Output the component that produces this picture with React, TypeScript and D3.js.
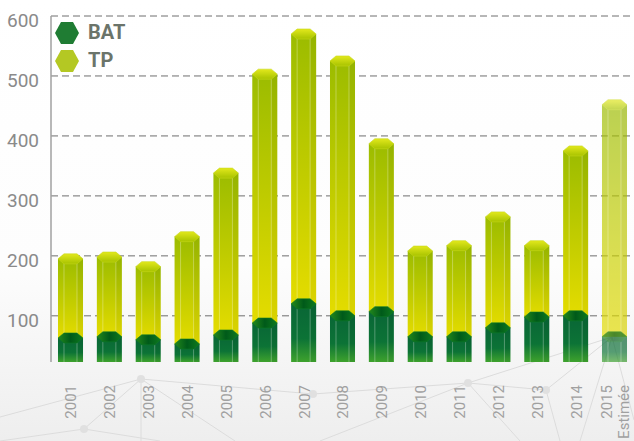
import { scaleBand, scaleLinear, select, stack } from 'd3';
import { useEffect, useRef } from 'react';

const years = ['2001', '2002', '2003', '2004', '2005', '2006', '2007', '2008', '2009', '2010', '2011', '2012', '2013', '2014', '2015'];
const bat = [63, 65, 60, 53, 68, 88, 120, 100, 107, 65, 65, 80, 98, 100, 65];
const tp = [132, 133, 122, 179, 270, 415, 450, 425, 280, 143, 152, 185, 119, 275, 387];
const yTicks = [100, 200, 300, 400, 500, 600];
const seriesNames = ['BAT', 'TP'];
const estimatedYear = '2015';

export default function App() {
  const svgRef = useRef<SVGSVGElement>(null);

  useEffect(() => {
    const width = 634;
    const height = 441;
    const left = 51;

    const svg = select(svgRef.current);
    svg.selectAll('*').remove();
    svg.attr('width', width).attr('height', height);

    const defs = svg.append('defs');
    const grad = (id: string, stops: [number, string][], horiz = false) => {
      const g = defs
        .append('linearGradient')
        .attr('id', id)
        .attr('x1', 0)
        .attr('y1', 0)
        .attr('x2', horiz ? 1 : 0)
        .attr('y2', horiz ? 0 : 1);
      stops.forEach(([o, c]) => g.append('stop').attr('offset', o).attr('stop-color', c));
    };
    grad('bg', [[0, '#ffffff'], [0.6, '#fdfdfd'], [1, '#eeeeee']]);
    grad('tpBody', [[0, '#9cbc00'], [0.55, '#c3cd00'], [1, '#e4dc00']]);
    grad('tpCap', [[0, '#e2e81c'], [1, '#a8c300']]);
    grad('batBody', [[0, '#096636'], [0.6, '#0c7336'], [1, '#3ea22d']]);
    grad('batCap', [[0, '#24891c'], [0.5, '#005a1a'], [1, '#0f7a1e']], true);

    svg.append('rect').attr('width', width).attr('height', height).attr('fill', 'url(#bg)');

    // faint network decoration in the background
    const deco = [
      [0, 417, 141, 379], [141, 379, 313, 394], [141, 379, 84, 429], [141, 379, 141, 441],
      [141, 379, 235, 441], [84, 429, 0, 441], [84, 429, 160, 441], [313, 394, 468, 383],
      [468, 383, 546, 390], [468, 383, 612, 337], [320, 441, 468, 383], [468, 383, 520, 441],
      [546, 390, 612, 337], [546, 390, 560, 441], [612, 337, 634, 420], [612, 337, 580, 441],
    ];
    svg
      .append('g')
      .selectAll('line')
      .data(deco)
      .enter()
      .append('line')
      .attr('x1', (d) => d[0])
      .attr('y1', (d) => d[1])
      .attr('x2', (d) => d[2])
      .attr('y2', (d) => d[3])
      .attr('stroke', '#dcdcdc')
      .attr('stroke-width', 1);
    svg
      .append('g')
      .selectAll('circle')
      .data([[141, 379], [84, 429], [313, 394], [468, 383], [546, 390]])
      .enter()
      .append('circle')
      .attr('cx', (d) => d[0])
      .attr('cy', (d) => d[1])
      .attr('r', 4)
      .attr('fill', '#e0e0e0');

    const x = scaleBand()
      .domain(years)
      .range([left, width])
      .paddingInner(0.356)
      .paddingOuter(0.18);

    const y = scaleLinear().domain([23, 600]).range([362, 16]);
    const base = y(23);

    // grid
    svg
      .append('g')
      .selectAll('line')
      .data(yTicks)
      .enter()
      .append('line')
      .attr('x1', left)
      .attr('x2', width)
      .attr('y1', (d) => y(d))
      .attr('y2', (d) => y(d))
      .attr('stroke', '#6e6e6e')
      .attr('stroke-width', 1)
      .attr('stroke-dasharray', '7,4');

    svg
      .append('g')
      .selectAll('text')
      .data(yTicks)
      .enter()
      .append('text')
      .attr('x', 39)
      .attr('y', (d) => y(d) + 6)
      .attr('text-anchor', 'end')
      .attr('dominant-baseline', 'middle')
      .attr('font-family', 'Roboto')
      .attr('font-size', 19)
      .attr('fill', '#8a8a8a')
      .text((d) => d);

    svg
      .append('line')
      .attr('x1', left)
      .attr('x2', left)
      .attr('y1', y(600))
      .attr('y2', base)
      .attr('stroke', '#a0a0a0')
      .attr('stroke-width', 1.5);

    const rows = years.map((yr, i) => ({ year: yr, BAT: bat[i], TP: tp[i] }));
    const series = stack<any>().keys(seriesNames)(rows);

    const w = x.bandwidth();
    const f = w * 0.24;
    const h = 5;
    const bodies = ['url(#batBody)', 'url(#tpBody)'];
    const caps = ['url(#batCap)', 'url(#tpCap)'];

    // draw TP first so BAT caps sit on top
    [1, 0].forEach((si) => {
      const g = svg.append('g');
      series[si].forEach((d: any) => {
        const yr = d.data.year;
        const x0 = x(yr)!;
        const top = y(d[1]);
        const bottom = si === 0 ? base : y(d[0]);
        const bar = g.append('g').attr('opacity', yr === estimatedYear ? 0.68 : 1);
        bar
          .append('rect')
          .attr('x', x0)
          .attr('y', top)
          .attr('width', w)
          .attr('height', bottom - top)
          .attr('fill', bodies[si]);
        bar
          .append('rect')
          .attr('x', x0 + w - f)
          .attr('y', top)
          .attr('width', f)
          .attr('height', bottom - top)
          .attr('fill', '#000')
          .attr('opacity', 0.04);
        [x0 + f, x0 + w - f].forEach((lx) =>
          bar
            .append('line')
            .attr('x1', lx)
            .attr('x2', lx)
            .attr('y1', top + h)
            .attr('y2', bottom)
            .attr('stroke', '#fff')
            .attr('stroke-opacity', 0.3)
            .attr('stroke-width', 1),
        );
        const pts = [
          [x0, top],
          [x0 + f, top - h],
          [x0 + w - f, top - h],
          [x0 + w, top],
          [x0 + w - f, top + h],
          [x0 + f, top + h],
        ];
        bar
          .append('polygon')
          .attr('points', pts.map((p) => p.join(',')).join(' '))
          .attr('fill', caps[si])
          .attr('stroke', si === 0 ? '#0c7a26' : '#c8d81a')
          .attr('stroke-width', 0.6);
      });
    });

    // x labels
    const xl = svg.append('g');
    years.forEach((yr) => {
      const cx = x(yr)! + w / 2;
      const lines = yr === estimatedYear ? [yr, 'Estimée'] : [yr];
      lines.forEach((t, li) => {
        const lx = cx + 2 + (li - (lines.length - 1) / 2) * 17;
        xl.append('text')
          .attr('transform', `translate(${lx},385) rotate(-90)`)
          .attr('text-anchor', 'end')
          .attr('dominant-baseline', 'middle')
          .attr('font-family', 'Roboto')
          .attr('font-size', 15)
          .attr('fill', '#a0a0a0')
          .text(t);
      });
    });

    // legend
    const legendColors = ['#1f7c33', '#b4c823'];
    const lg = svg.append('g');
    seriesNames.forEach((name, i) => {
      const cx = 67;
      const cy = 33 + i * 28;
      const hp = [
        [cx - 12, cy],
        [cx - 6, cy - 11],
        [cx + 6, cy - 11],
        [cx + 12, cy],
        [cx + 6, cy + 11],
        [cx - 6, cy + 11],
      ];
      lg.append('polygon')
        .attr('points', hp.map((p) => p.join(',')).join(' '))
        .attr('fill', legendColors[i]);
      lg.append('text')
        .attr('x', 88)
        .attr('y', cy + 1)
        .attr('dominant-baseline', 'middle')
        .attr('font-family', 'Roboto')
        .attr('font-weight', 'bold')
        .attr('font-size', 20)
        .attr('fill', '#6b746a')
        .text(name);
    });
  }, []);

  return (
    <div style={{ position: 'absolute', left: 0, top: 0 }}>
      <svg ref={svgRef} style={{ display: 'block' }}></svg>
    </div>
  );
}
